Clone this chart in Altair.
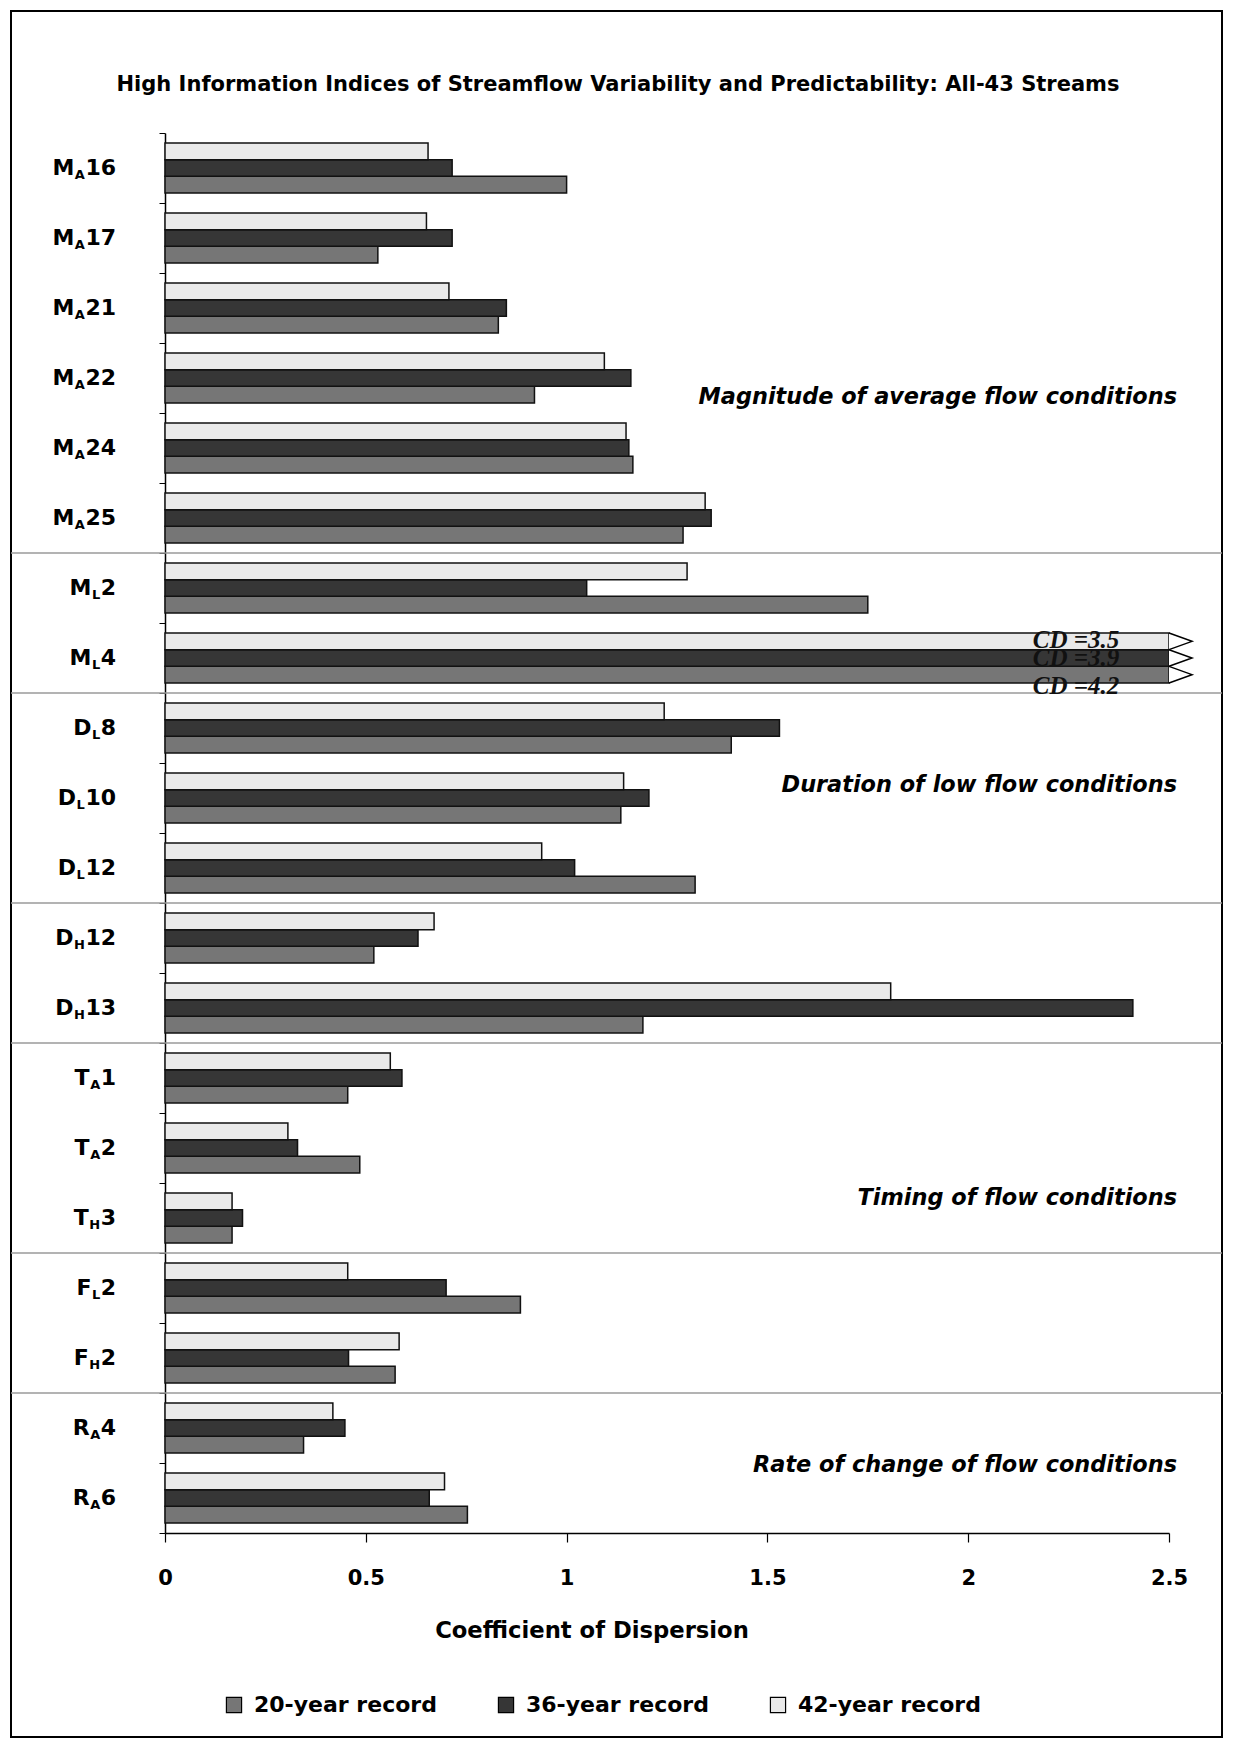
import altair as alt
import pandas as pd

# ---------------- data ----------------
title_text = "High Information Indices of Streamflow Variability and Predictability:  All-43 Streams"
x_title = "Coefficient of Dispersion"
series = ["20-year record", "36-year record", "42-year record"]
series_colors = ["#767676", "#363636", "#e9e9e9"]

cat_main = ["M", "M", "M", "M", "M", "M", "M", "M", "D", "D", "D", "D", "D", "T", "T", "T", "F", "F", "R", "R"]
cat_sub = ["A", "A", "A", "A", "A", "A", "L", "L", "L", "L", "L", "H", "H", "A", "A", "H", "L", "H", "A", "A"]
cat_num = ["16", "17", "21", "22", "24", "25", "2", "4", "8", "10", "12", "12", "13", "1", "2", "3", "2", "2", "4", "6"]

rec20 = [1.00, 0.53, 0.83, 0.92, 1.165, 1.29, 1.75, 4.2, 1.41, 1.135, 1.32, 0.52, 1.19, 0.455, 0.485, 0.167, 0.885, 0.573, 0.345, 0.753]
rec36 = [0.715, 0.715, 0.85, 1.16, 1.155, 1.36, 1.05, 3.9, 1.53, 1.205, 1.02, 0.63, 2.41, 0.59, 0.33, 0.193, 0.70, 0.457, 0.448, 0.658]
rec42 = [0.655, 0.651, 0.707, 1.094, 1.148, 1.345, 1.30, 3.5, 1.243, 1.142, 0.938, 0.67, 1.807, 0.561, 0.306, 0.167, 0.455, 0.583, 0.418, 0.696]

group_labels = ["Magnitude of average flow conditions", "Duration of low flow conditions",
                "Timing of flow conditions", "Rate of change of flow conditions"]
separator_before = ["ML2", "DL8", "DH12", "TA1", "FL2", "RA4"]
x_ticks = [0, 0.5, 1, 1.5, 2, 2.5]

# ---------------- layout / style ----------------
SANS = "DejaVu Sans"
SERIF = "Liberation Serif"
W, H = 1004, 1400
group_label_y = [264, 652, 1065, 1332]
LBL_FS, SUB_FS = 22, 13
LBL_RIGHT = -49
DIGIT_W = 0.696
SUB_W = {"A": 0.774, "L": 0.637, "H": 0.837}
CD_DY = {"42-year record": -1, "36-year record": 0, "20-year record": 11}
OFFSET_ORDER = ["42-year record", "36-year record", "20-year record"]

keys = [m + s + n for m, s, n in zip(cat_main, cat_sub, cat_num)]

rows = []
for i, k in enumerate(keys):
    for s, vals in zip(series, [rec20, rec36, rec42]):
        rows.append({"cat": k, "series": s, "value": vals[i]})
df = pd.DataFrame(rows)
over = df[df["value"] > x_ticks[-1]].copy()
over["label"] = over["value"].map(lambda v: f"CD ={v}")

lab_rows = []
for k, m, s, n in zip(keys, cat_main, cat_sub, cat_num):
    num_x = LBL_RIGHT
    sub_x = num_x - len(n) * DIGIT_W * LBL_FS - 0.5
    main_x = sub_x - SUB_W[s] * SUB_FS - 0.5
    lab_rows.append({"cat": k, "main": m, "sub": s, "num": n,
                     "main_x": main_x, "sub_x": sub_x, "num_x": num_x})
lab_df = pd.DataFrame(lab_rows)

# shared scales / axes (identical in every layer so they merge)
x_scale = alt.Scale(domain=[0, 2.5], clamp=True, nice=False)
x_axis = alt.Axis(values=x_ticks, format="~g", title=None, grid=False,
                  domainColor="black", domainWidth=1.5, tickColor="black",
                  tickSize=9, tickWidth=1.2, labelFont=SANS, labelFontSize=21,
                  labelFontWeight="bold", labelColor="black", labelFlush=False,
                  labelBaseline="middle", labelPadding=36)
y_scale = alt.Scale(paddingInner=0, paddingOuter=0)
y_axis = alt.Axis(labels=False, title=None, grid=False, tickBand="extent",
                  tickSize=6, tickColor="black", domainColor="black", domainWidth=1.5)


def ycat(**kw):
    return alt.Y("cat:N", sort=keys, scale=y_scale, axis=y_axis, **kw)


def yoff():
    return alt.YOffset("series:N", sort=OFFSET_ORDER,
                       scale=alt.Scale(paddingOuter=0.6, paddingInner=0))


one = alt.Data(values=[{"t": 0}])

frame = alt.Chart(one).mark_rect(fillOpacity=0, stroke="black", strokeWidth=2).encode(
    x=alt.value(-154), x2=alt.value(1057), y=alt.value(-122), y2=alt.value(1604))

seps = alt.Chart(pd.DataFrame({"cat": separator_before})).mark_rule(
    color="#9a9a9a", strokeWidth=1.5).encode(
    y=ycat(bandPosition=0), x=alt.value(-154), x2=alt.value(1057))

bars = alt.Chart(df).mark_bar(stroke="#111111", strokeWidth=1.5).encode(
    x=alt.X("value:Q", scale=x_scale, axis=x_axis),
    y=ycat(),
    yOffset=yoff(),
    color=alt.Color("series:N", scale=alt.Scale(domain=series, range=series_colors),
                    legend=alt.Legend(orient="none", legendX=58, legendY=1561,
                                      direction="horizontal", title=None,
                                      symbolType="square", symbolSize=230,
                                      symbolStrokeColor="black", symbolStrokeWidth=1.2,
                                      symbolOpacity=1, labelFont=SANS, labelFontSize=22,
                                      labelFontWeight="bold", labelColor="black",
                                      columnPadding=58, labelOffset=9, labelLimit=400)))

breaks = alt.Chart(over).mark_point(
    shape="M-1,-0.72L1,0L-1,0.72", filled=True, fill="white", stroke="black",
    strokeWidth=1.5, size=529, xOffset=11.5, opacity=1).encode(
    x=alt.X("value:Q", scale=x_scale, axis=x_axis),
    y=ycat(),
    yOffset=yoff())

cd_layers = []
for s in series:
    sub = over[over["series"] == s]
    if len(sub) == 0:
        continue
    cd_layers.append(alt.Chart(sub).mark_text(
        font=SERIF, fontSize=25, fontWeight="bold", fontStyle="italic",
        color="#111111", align="center", baseline="middle", dy=CD_DY[s]).encode(
        x=alt.value(911), y=ycat(), yOffset=yoff(), text="label:N"))

lab_main = alt.Chart(lab_df).mark_text(
    align="right", baseline="middle", font=SANS, fontSize=LBL_FS, fontWeight="bold",
    color="black").encode(
    x=alt.X("main_x:Q", scale=None), y=ycat(), text="main:N")
lab_sub = alt.Chart(lab_df).mark_text(
    align="right", baseline="middle", font=SANS, fontSize=SUB_FS, fontWeight="bold",
    color="black", dy=7).encode(
    x=alt.X("sub_x:Q", scale=None), y=ycat(), text="sub:N")
lab_num = alt.Chart(lab_df).mark_text(
    align="right", baseline="middle", font=SANS, fontSize=LBL_FS, fontWeight="bold",
    color="black").encode(
    x=alt.X("num_x:Q", scale=None), y=ycat(), text="num:N")

grp_df = pd.DataFrame({"label": group_labels, "ypx": group_label_y})
groups = alt.Chart(grp_df).mark_text(
    align="right", baseline="middle", font=SANS, fontSize=22.4, fontWeight="bold",
    fontStyle="italic", color="black").encode(
    x=alt.value(1012), y=alt.Y("ypx:Q", scale=None), text="label:N")

title = alt.Chart(alt.Data(values=[{"t": title_text}])).mark_text(
    align="center", baseline="middle", font=SANS, fontSize=21, fontWeight="bold",
    color="black").encode(x=alt.value(453), y=alt.value(-48), text="t:N")

xtitle = alt.Chart(alt.Data(values=[{"t": x_title}])).mark_text(
    align="center", baseline="middle", font=SANS, fontSize=22.7, fontWeight="bold",
    color="black").encode(x=alt.value(427), y=alt.value(1498), text="t:N")

chart = alt.layer(frame, seps, bars, breaks, *cd_layers, lab_main, lab_sub, lab_num,
                  groups, title, xtitle).properties(
    width=W, height=H,
    padding={"left": 157, "top": 125, "right": 66, "bottom": 210},
    autosize=alt.AutoSizeParams(type="none"),
    background="white",
).configure_view(strokeWidth=0)

chart.save("out.html", embed_options={"renderer": "svg", "actions": False})
